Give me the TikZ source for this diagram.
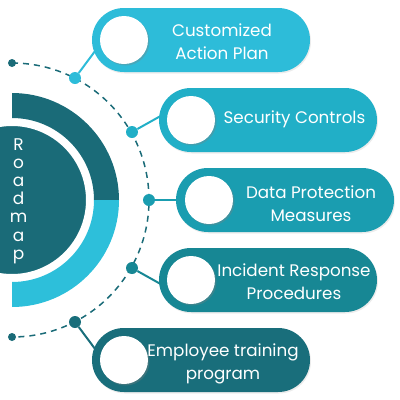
\documentclass[tikz,border=0pt]{standalone}
\usepackage{fontspec}
\setmainfont{Poppins}
\usetikzlibrary{shadows}
\definecolor{cA}{HTML}{2DBCD9}
\definecolor{cB}{HTML}{21AFC7}
\definecolor{cC}{HTML}{1A9DB0}
\definecolor{cD}{HTML}{178794}
\definecolor{cE}{HTML}{196E7B}
\definecolor{dark}{HTML}{1A6B78}
\definecolor{light}{HTML}{2DBFDA}
\tikzset{
  pill/.style={rectangle, rounded corners=31.9bp, minimum width=218bp, minimum height=64bp, inner sep=0pt,
    fill=#1, drop shadow={shadow xshift=1bp, shadow yshift=-1.5bp, opacity=0.15}},
  hole/.style={circle, minimum size=48bp, inner sep=0pt, fill=white,
    drop shadow={shadow xshift=1.5bp, shadow yshift=-1.5bp, opacity=0.35}},
  anchorcirc/.style={circle, minimum size=48bp, inner sep=0pt},
  dot/.style={circle, minimum size=12bp, inner sep=0pt, fill=#1},
  enddot/.style={circle, minimum size=8bp, inner sep=0pt, fill=dark},
  link/.style={draw=#1, line width=2bp},
  label/.style={text=white, align=center, font=\fontsize{16.8}{23}\selectfont, inner sep=0pt},
}
\begin{document}
\begin{tikzpicture}[x=1bp, y=-1bp]
\useasboundingbox (0,0) rectangle (400,400);
\clip (0,0) rectangle (400,400);
% ring
\fill[dark] (12,93) arc[start angle=-90, end angle=0, radius=107] -- (94,200) arc[start angle=0, end angle=-90, radius=82] -- cycle;
\fill[light] (119,200) arc[start angle=0, end angle=90, radius=107] -- (12,282) arc[start angle=90, end angle=0, radius=82] -- cycle;
% inner disk
\node[circle, minimum size=150bp, inner sep=0pt, fill=dark, draw=white, line width=2bp] (disk) at (12,200) {};
\node[text=white, align=center, font=\fontsize{17}{18.3}\selectfont, inner sep=0pt] (title) at (18.5,201) {R\\o\\a\\d\\m\\a\\p};
% dashed arc
\node[enddot] (e1) at (12,63) {};
\node[enddot] (e2) at (12,337) {};
\draw[dark, line width=1.5bp, dash pattern=on 6bp off 5bp] (e1.center) arc[start angle=-90, end angle=90, radius=137];
% dots
\node[dot=cA] (d1) at (75,78) {};
\node[dot=cB] (d2) at (132,132) {};
\node[dot=cC] (d3) at (149,200) {};
\node[dot=cD] (d4) at (132,268) {};
\node[dot=cE] (d5) at (75,322) {};
% circle positions
\node[anchorcirc] (h1) at (124,40) {};
\node[anchorcirc] (h2) at (191,120) {};
\node[anchorcirc] (h3) at (209,200) {};
\node[anchorcirc] (h4) at (191,280) {};
\node[anchorcirc] (h5) at (124,360) {};
\draw[link=cA] (d1) -- (h1.190);
\draw[link=cB] (d2) -- (h2.160);
\draw[link=cC] (d3) -- (h3.180);
\draw[link=cD] (d4) -- (h4.200);
\draw[link=cE] (d5) -- (h5.170);
% pills
\node[pill=cA] (P1) at (201,40) {};
\node[pill=cB] (P2) at (268,120) {};
\node[pill=cC] (P3) at (285,200) {};
\node[pill=cD] (P4) at (268,280) {};
\node[pill=cE] (P5) at (201,360) {};
\node[hole] (w1) at (h1) {};
\node[hole] (w2) at (h2) {};
\node[hole] (w3) at (h3) {};
\node[hole] (w4) at (h4) {};
\node[hole] (w5) at (h5) {};
\node[label] (t1) at (222,41.5) {Customized\\Action Plan};
\node[label] (t2) at (294.5,119) {Security Controls};
\node[label] (t3) at (311,203.5) {Data Protection\\Measures};
\node[label] (t4) at (294,281.5) {Incident Response\\Procedures};
\node[label] (t5) at (223,363.5) {Employee training\\program};
\end{tikzpicture}
\end{document}
